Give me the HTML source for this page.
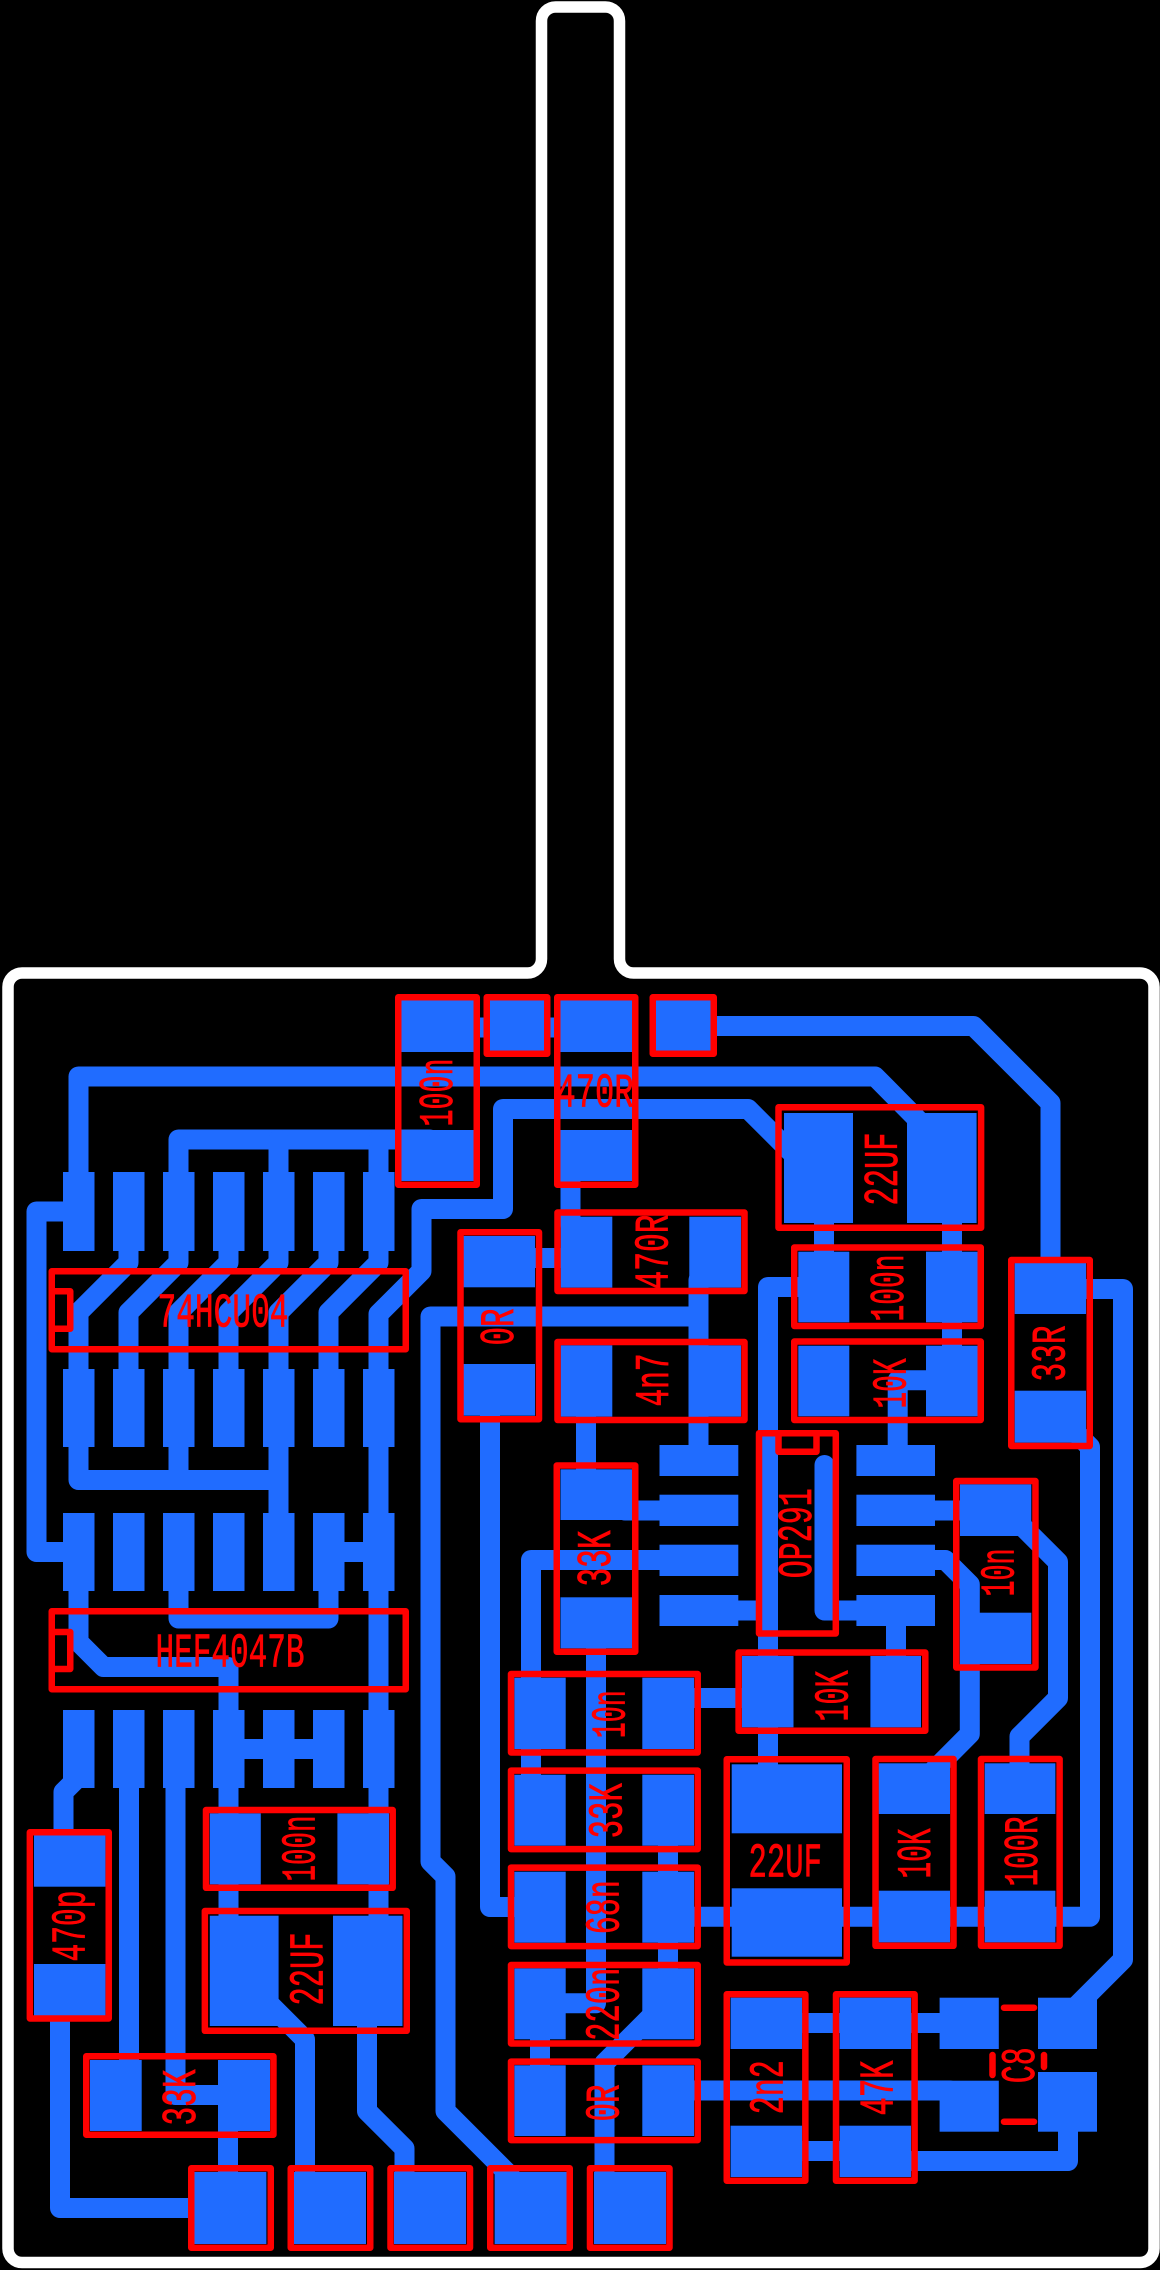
<!DOCTYPE html>
<html><head><meta charset="utf-8"><title>PCB layout</title>
<style>
html,body{margin:0;padding:0;background:#000}
svg{display:block}
text{font-family:"Liberation Mono",monospace;font-size:48px;fill:#f00;stroke:#f00;stroke-width:.8}
.b rect{fill:#206cff}
.t{fill:none;stroke:#206cff;stroke-width:20;stroke-linejoin:round;stroke-linecap:round}
.r{fill:none;stroke:#f00;stroke-width:6.5;stroke-linejoin:round}
</style></head><body>
<svg width="1160" height="2270" viewBox="0 0 1160 2270" xmlns="http://www.w3.org/2000/svg">
<rect width="1160" height="2270" fill="#000"/>
<path d="M541.5 21A14 14 0 0 1 555.5 7H605.5A14 14 0 0 1 619.5 21V959A14 14 0 0 0 633.5 973H1140A14 14 0 0 1 1154 987V2248.5A14 14 0 0 1 1140 2262.5H22A14 14 0 0 1 8 2248.5V987A14 14 0 0 1 22 973H527.5A14 14 0 0 0 541.5 959Z" fill="none" stroke="#fff" stroke-width="11.5"/>

<g class="t">
<path d="M450 1027.5H620"/>
<path d="M690 1026H973.5L1050.5 1103V1270"/>
<path d="M78.5 1190V1076.5H875L925 1127"/>
<path d="M178.5 1180V1139.5H430"/>
<path d="M278.5 1139.5V1180M378.5 1139.5V1180"/>
<path d="M78.5 1211.5H36.5V1552H80"/>
<path d="M378.5 1380V1314L421.5 1271V1209H503V1109H748L790 1151"/>
<path d="M128.5 1240V1262.5L78.5 1312.5V1380"/>
<path d="M178.5 1240V1262.5L128.5 1312.5V1380"/>
<path d="M228.5 1240V1262.5L178.5 1312.5V1380"/>
<path d="M278.5 1240V1262.5L228.5 1312.5V1380"/>
<path d="M328.5 1240V1262.5L278.5 1312.5V1380"/>
<path d="M378.5 1240V1262.5L328.5 1312.5V1380"/>
<path d="M78.5 1440V1480H278.5M178.5 1440V1480M278.5 1440V1520"/>
<path d="M378.5 1440V1730"/>
<path d="M328.5 1552H378.5"/>
<path d="M78.5 1585V1642L103.5 1667H228.5V1720"/>
<path d="M178.5 1585V1618.5H328.5V1585"/>
<path d="M228.5 1749H328.5"/>
<path d="M228.5 1780V1820M378.5 1780V1820"/>
<path d="M228.5 1880V1925M378.5 1880V1925"/>
<path d="M78.5 1777L63.5 1792V1845"/>
<path d="M129 1780V2070"/>
<path d="M175.5 1780V2095H230"/>
<path d="M60 2010V2208H200"/>
<path d="M228 2125V2180"/>
<path d="M265 1999.5L305 2039.5V2175"/>
<path d="M367 2020V2111L404.5 2148.5V2175"/>
<path d="M698.5 1316.5H430.5V1861.5L445.5 1876.5V2111L510 2175.5"/>
<path d="M698.5 1280V1450"/>
<path d="M530 1258H570"/>
<path d="M570.5 1175V1225"/>
<path d="M490 1410V1907H520"/>
<path d="M586 1410V1475"/>
<path d="M625 1510.5H670"/>
<path d="M670 1560H531V1690"/>
<path d="M531 1740V1785"/>
<path d="M730 1610.5H768"/>
<path d="M800 1287H768V1780"/>
<path d="M824.5 1465V1610.5H865"/>
<path d="M897.7 1455V1380.3H935"/>
<path d="M896 1620V1665"/>
<path d="M824 1215V1260M952 1215V1260M952 1315V1355"/>
<path d="M925 1510.5H970"/>
<path d="M925 1560H945.3L969.8 1584.5V1734L925 1779"/>
<path d="M1010 1514L1058 1562V1698L1019.5 1736.5V1775"/>
<path d="M1086 1289H1123V1959.5L1075 2007.5"/>
<path d="M1075 1432L1090 1447V1916.7H660"/>
<path d="M690 1698H750"/>
<path d="M596 1640V2003.3H550"/>
<path d="M668 1840V1880M668 1935V1975"/>
<path d="M604.5 2175V2063L660 2007.5"/>
<path d="M540 2030V2075"/>
<path d="M685 2090.5H950"/>
<path d="M795 2023H950"/>
<path d="M795 2151H845"/>
<path d="M905 2161H1068V2125"/>
</g>

<g class="b">
<rect x="63" y="1172" width="31.5" height="79"/><rect x="113" y="1172" width="31.5" height="79"/><rect x="163" y="1172" width="31.5" height="79"/><rect x="213" y="1172" width="31.5" height="79"/><rect x="263" y="1172" width="31.5" height="79"/><rect x="313" y="1172" width="31.5" height="79"/><rect x="363" y="1172" width="31.5" height="79"/>
<rect x="63" y="1369" width="31.5" height="78"/><rect x="113" y="1369" width="31.5" height="78"/><rect x="163" y="1369" width="31.5" height="78"/><rect x="213" y="1369" width="31.5" height="78"/><rect x="263" y="1369" width="31.5" height="78"/><rect x="313" y="1369" width="31.5" height="78"/><rect x="363" y="1369" width="31.5" height="78"/>
<rect x="63" y="1513" width="31.5" height="78"/><rect x="113" y="1513" width="31.5" height="78"/><rect x="163" y="1513" width="31.5" height="78"/><rect x="213" y="1513" width="31.5" height="78"/><rect x="263" y="1513" width="31.5" height="78"/><rect x="313" y="1513" width="31.5" height="78"/><rect x="363" y="1513" width="31.5" height="78"/>
<rect x="63" y="1710" width="31.5" height="78"/><rect x="113" y="1710" width="31.5" height="78"/><rect x="163" y="1710" width="31.5" height="78"/><rect x="213" y="1710" width="31.5" height="78"/><rect x="263" y="1710" width="31.5" height="78"/><rect x="313" y="1710" width="31.5" height="78"/><rect x="363" y="1710" width="31.5" height="78"/>
<rect x="401" y="1000" width="72.5" height="52"/><rect x="401" y="1130" width="72.5" height="51"/>
<rect x="488" y="1000" width="58" height="52"/>
<rect x="560.5" y="1000" width="71.5" height="52"/><rect x="560.5" y="1130" width="71.5" height="51"/>
<rect x="655" y="1000" width="56" height="52"/>
<rect x="784" y="1113" width="69" height="110"/><rect x="907" y="1113" width="69.6" height="110"/>
<rect x="798.3" y="1251.7" width="51" height="70.6"/><rect x="926" y="1251.7" width="51.7" height="70.6"/>
<rect x="798.3" y="1345.7" width="51" height="70.6"/><rect x="926" y="1345.7" width="51.7" height="70.6"/>
<rect x="1014.7" y="1262.7" width="71.3" height="51.3"/><rect x="1014.7" y="1390.7" width="71.3" height="52"/>
<rect x="463.3" y="1236" width="71.7" height="51.3"/><rect x="463.3" y="1364" width="71.7" height="51.7"/>
<rect x="560.7" y="1216.7" width="51.6" height="71"/><rect x="689.3" y="1216.7" width="51.7" height="71"/>
<rect x="560.7" y="1345.3" width="51.6" height="71.4"/><rect x="689.3" y="1345.3" width="51.7" height="71.4"/>
<rect x="560.5" y="1469.3" width="71.5" height="50.7"/><rect x="560.5" y="1597.3" width="71.5" height="51"/>
<rect x="659.5" y="1445" width="78.8" height="31"/><rect x="659.5" y="1494.7" width="78.8" height="31.3"/><rect x="659.5" y="1544.7" width="78.8" height="31.3"/><rect x="659.5" y="1595" width="78.8" height="31"/>
<rect x="856.4" y="1445" width="78.6" height="31"/><rect x="856.4" y="1494.7" width="78.6" height="31.3"/><rect x="856.4" y="1544.7" width="78.6" height="31.3"/><rect x="856.4" y="1595" width="78.6" height="31"/>
<rect x="960" y="1484.3" width="71.3" height="51.7"/><rect x="960" y="1612.7" width="71.3" height="51.3"/>
<rect x="742" y="1656" width="51.5" height="71.3"/><rect x="870.4" y="1656" width="50.6" height="71.3"/>
<rect x="731.7" y="1764.3" width="110.3" height="69"/><rect x="731.7" y="1888.3" width="110.3" height="68.4"/>
<rect x="878.6" y="1763.3" width="71.4" height="50.7"/><rect x="878.6" y="1890.7" width="71.4" height="51.6"/>
<rect x="984.7" y="1763.3" width="70.7" height="50.7"/><rect x="984.7" y="1890.7" width="70.7" height="51.6"/>
<rect x="514.3" y="1677.7" width="51.4" height="71.3"/><rect x="642.3" y="1677.7" width="51.7" height="71.3"/>
<rect x="514.3" y="1774.7" width="51.4" height="71"/><rect x="642.3" y="1774.7" width="51.7" height="71"/>
<rect x="514.3" y="1871.7" width="51.4" height="71"/><rect x="642.3" y="1871.7" width="51.7" height="71"/>
<rect x="514.3" y="1968.3" width="51.4" height="71"/><rect x="642.3" y="1968.3" width="51.7" height="71"/>
<rect x="514.3" y="2065.3" width="51.4" height="70.7"/><rect x="642.3" y="2065.3" width="51.7" height="70.7"/>
<rect x="730.6" y="1997.7" width="71.4" height="51.3"/><rect x="730.6" y="2125.7" width="71.4" height="51.3"/>
<rect x="839.7" y="1997.7" width="71.3" height="51.3"/><rect x="839.7" y="2125.7" width="71.3" height="51.3"/>
<rect x="939.6" y="1997.7" width="59.2" height="51.3"/><rect x="939.6" y="2080.7" width="59.2" height="51"/>
<rect x="1038" y="1997.7" width="59" height="51.3"/><rect x="1038" y="2072" width="59" height="59.7"/>
<rect x="209.8" y="1813.3" width="51" height="71"/><rect x="337.4" y="1813.3" width="51.6" height="71"/>
<rect x="209.8" y="1915.7" width="68.8" height="110.3"/><rect x="333" y="1915.7" width="69.5" height="110.3"/>
<rect x="34" y="1835" width="71.4" height="51.7"/><rect x="34" y="1964" width="71.4" height="51.7"/>
<rect x="90" y="2060" width="51.7" height="71"/><rect x="218" y="2060" width="52" height="71"/>
<rect x="194" y="2172" width="72.4" height="72"/><rect x="294" y="2172" width="72" height="72"/><rect x="394" y="2172" width="72" height="72"/><rect x="494.6" y="2172" width="72" height="72"/><rect x="594" y="2172" width="72" height="72"/>
</g>

<g class="r">
<rect x="398.25" y="997.25" width="78.5" height="187.5"/>
<rect x="486.75" y="997.25" width="60.5" height="56.5"/>
<rect x="557.25" y="997.25" width="78" height="187.5"/>
<rect x="652.75" y="997.25" width="61" height="56.5"/>
<rect x="778.5" y="1107.25" width="202.6" height="120.5"/>
<rect x="794.25" y="1247.5" width="186.5" height="78.5"/>
<rect x="794.25" y="1341.5" width="186.5" height="78.5"/>
<rect x="1011.25" y="1260" width="78.5" height="186"/>
<rect x="460.5" y="1232.25" width="78.5" height="187"/>
<rect x="557.5" y="1212.5" width="187" height="78.5"/>
<rect x="557.5" y="1342" width="187" height="78"/>
<rect x="556.75" y="1465.5" width="78.5" height="186.25"/>
<rect x="759" y="1433.25" width="76.8" height="200.2"/>
<rect x="778.5" y="1433.25" width="38" height="18.5"/>
<rect x="956.25" y="1481" width="79.2" height="186.5"/>
<rect x="738.6" y="1652.5" width="186.7" height="78.2"/>
<rect x="726.75" y="1759.25" width="120" height="203.2"/>
<rect x="875.5" y="1759" width="78" height="186.8"/>
<rect x="981" y="1759" width="78.6" height="186.8"/>
<rect x="511" y="1674" width="186.7" height="78.5"/>
<rect x="511" y="1770.6" width="186.7" height="78.5"/>
<rect x="511" y="1867.6" width="186.7" height="78.5"/>
<rect x="511" y="1965" width="186.7" height="78.5"/>
<rect x="511" y="2061.6" width="186.7" height="78.5"/>
<rect x="726.75" y="1994.25" width="78.6" height="186.5"/>
<rect x="836" y="1994.25" width="78.6" height="186.5"/>
<rect x="191.25" y="2168.25" width="79.5" height="79.5"/>
<rect x="290.75" y="2168.25" width="79.5" height="79.5"/>
<rect x="390.5" y="2168.25" width="79.5" height="79.5"/>
<rect x="490.25" y="2168.25" width="79.5" height="79.5"/>
<rect x="590" y="2168.25" width="79.5" height="79.5"/>
<rect x="86.25" y="2056.25" width="187.2" height="78.5"/>
<rect x="29.85" y="1832.25" width="78.9" height="186.2"/>
<rect x="204.85" y="1911" width="201.9" height="119.8"/>
<rect x="206" y="1810" width="186.7" height="77.8"/>
<rect x="51.75" y="1271.25" width="354" height="78"/>
<rect x="51.75" y="1291.25" width="18.5" height="37.5"/>
<rect x="51.75" y="1611.25" width="354" height="78"/>
<rect x="51.75" y="1632" width="18.5" height="37"/>
<path d="M1004 2007.7H1034M1004 2121.7H1034M992.5 2055V2075M1044 2055V2067" stroke-linecap="round"/>
</g>

<g>
<text x="157.5" y="1326.7" textLength="131" lengthAdjust="spacingAndGlyphs">74HCU04</text>
<text x="155.5" y="1666.7" textLength="149" lengthAdjust="spacingAndGlyphs">HEF4047B</text>
<text x="556.5" y="1106.7" textLength="77" lengthAdjust="spacingAndGlyphs">470R</text>
<text x="748.5" y="1876.7" textLength="73.5" lengthAdjust="spacingAndGlyphs">22UF</text>
<text x="-1.5" transform="translate(452 1125) rotate(-90)" textLength="68" lengthAdjust="spacingAndGlyphs">100n</text>
<text x="-1.5" transform="translate(897 1204) rotate(-90)" textLength="73" lengthAdjust="spacingAndGlyphs">22UF</text>
<text x="-1.5" transform="translate(667.3 1288) rotate(-90)" textLength="75" lengthAdjust="spacingAndGlyphs">470R</text>
<text x="-1.5" transform="translate(513 1344) rotate(-90)" textLength="37" lengthAdjust="spacingAndGlyphs">0R</text>
<text x="-1.5" transform="translate(668 1405) rotate(-90)" textLength="53" lengthAdjust="spacingAndGlyphs">4n7</text>
<text x="-1.5" transform="translate(903 1320) rotate(-90)" textLength="67" lengthAdjust="spacingAndGlyphs">100n</text>
<text x="-1.5" transform="translate(905.6 1407) rotate(-90)" textLength="50" lengthAdjust="spacingAndGlyphs">10K</text>
<text x="-1.5" transform="translate(1064.6 1380) rotate(-90)" textLength="56" lengthAdjust="spacingAndGlyphs">33R</text>
<text x="-1.5" transform="translate(610 1585) rotate(-90)" textLength="56" lengthAdjust="spacingAndGlyphs">33K</text>
<text x="-1.5" transform="translate(811 1576.7) rotate(-90)" textLength="90" lengthAdjust="spacingAndGlyphs">OP291</text>
<text x="-1.5" transform="translate(1013.6 1595) rotate(-90)" textLength="48" lengthAdjust="spacingAndGlyphs">10n</text>
<text x="-1.5" transform="translate(847.5 1720) rotate(-90)" textLength="51" lengthAdjust="spacingAndGlyphs">10K</text>
<text x="-1.5" transform="translate(930 1877) rotate(-90)" textLength="50" lengthAdjust="spacingAndGlyphs">10K</text>
<text x="-1.5" transform="translate(1037 1885) rotate(-90)" textLength="70" lengthAdjust="spacingAndGlyphs">100R</text>
<text x="-1.5" transform="translate(624.3 1736.7) rotate(-90)" textLength="48" lengthAdjust="spacingAndGlyphs">10n</text>
<text x="-1.5" transform="translate(621.7 1836.7) rotate(-90)" textLength="55" lengthAdjust="spacingAndGlyphs">33K</text>
<text x="-1.5" transform="translate(618.3 1932.7) rotate(-90)" textLength="54" lengthAdjust="spacingAndGlyphs">68n</text>
<text x="-1.5" transform="translate(618.3 2039.3) rotate(-90)" textLength="73" lengthAdjust="spacingAndGlyphs">220n</text>
<text x="-1.5" transform="translate(618.3 2120) rotate(-90)" textLength="37" lengthAdjust="spacingAndGlyphs">0R</text>
<text x="-1.5" transform="translate(782.7 2112.7) rotate(-90)" textLength="54" lengthAdjust="spacingAndGlyphs">2n2</text>
<text x="-1.5" transform="translate(892.6 2114) rotate(-90)" textLength="55" lengthAdjust="spacingAndGlyphs">47K</text>
<text x="-1.5" transform="translate(1034 2081.7) rotate(-90)" textLength="36" lengthAdjust="spacingAndGlyphs">C8</text>
<text x="-1.5" transform="translate(314.5 1880) rotate(-90)" textLength="66" lengthAdjust="spacingAndGlyphs">100n</text>
<text x="-1.5" transform="translate(322.6 2004) rotate(-90)" textLength="73" lengthAdjust="spacingAndGlyphs">22UF</text>
<text x="-1.5" transform="translate(84.3 1960) rotate(-90)" textLength="71" lengthAdjust="spacingAndGlyphs">470p</text>
<text x="-1.5" transform="translate(195 2124) rotate(-90)" textLength="56" lengthAdjust="spacingAndGlyphs">33K</text>
</g>
</svg>
</body></html>
